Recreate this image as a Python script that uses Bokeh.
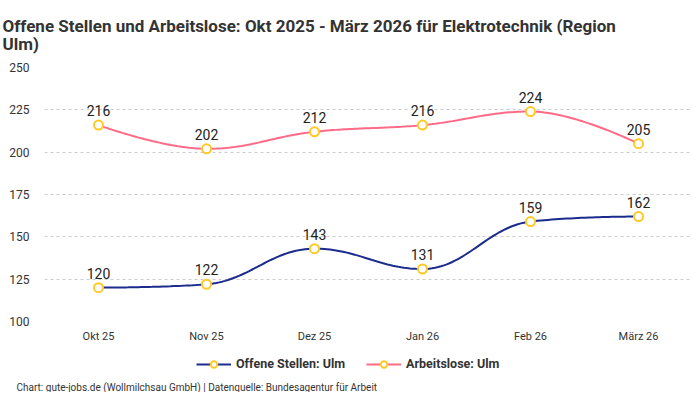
import numpy as np
from bokeh.plotting import figure
from bokeh.layouts import column
from bokeh.models import (Range1d, FixedTicker, Legend, LegendItem, Title,
                          ColumnDataSource, LabelSet)
from bokeh.core.properties import value
from bokeh.embed import file_html
from bokeh.resources import INLINE

months = ["Okt 25", "Nov 25", "Dez 25", "Jan 26", "Feb 26", "März 26"]
offene_stellen = [120, 122, 143, 131, 159, 162]
arbeitslose = [216, 202, 212, 216, 224, 205]
y_ticks = [100, 125, 150, 175, 200, 225, 250]

TITLE = "Offene Stellen und Arbeitslose: Okt 2025 - März 2026 für Elektrotechnik (Region\nUlm)"
FOOTER = "Chart: gute-jobs.de (Wollmilchsau GmbH) | Datenquelle: Bundesagentur für Arbeit"
FONT = "Roboto"
BLUE = "#1b2c8d"
PINK = "#ff6b86"
MARKER = "#ffc928"


def hc_spline(xs, ys, samples=40):
    """Highcharts-style spline: control points from neighbouring points."""
    n = len(xs)
    s, d = 1.5, 2.5
    left = [None] * n
    right = [None] * n
    for i in range(1, n - 1):
        px, py = xs[i], ys[i]
        lx, ly = xs[i - 1], ys[i - 1]
        nx, ny = xs[i + 1], ys[i + 1]
        lcx, lcy = (s * px + lx) / d, (s * py + ly) / d
        rcx, rcy = (s * px + nx) / d, (s * py + ny) / d
        corr = 0.0
        if rcx != lcx:
            corr = (rcy - lcy) * (rcx - px) / (rcx - lcx) + py - rcy
        lcy += corr
        rcy += corr
        if lcy > ly and lcy > py:
            lcy = max(ly, py); rcy = 2 * py - lcy
        elif lcy < ly and lcy < py:
            lcy = min(ly, py); rcy = 2 * py - lcy
        if rcy > ny and rcy > py:
            rcy = max(ny, py); lcy = 2 * py - rcy
        elif rcy < ny and rcy < py:
            rcy = min(ny, py); lcy = 2 * py - rcy
        left[i] = (lcx, lcy)
        right[i] = (rcx, rcy)
    out_x, out_y = [], []
    t = np.linspace(0, 1, samples)
    for i in range(1, n):
        p0 = (xs[i - 1], ys[i - 1])
        p3 = (xs[i], ys[i])
        p1 = right[i - 1] if right[i - 1] is not None else p0
        p2 = left[i] if left[i] is not None else p3
        bx = (1 - t) ** 3 * p0[0] + 3 * (1 - t) ** 2 * t * p1[0] + 3 * (1 - t) * t ** 2 * p2[0] + t ** 3 * p3[0]
        by = (1 - t) ** 3 * p0[1] + 3 * (1 - t) ** 2 * t * p1[1] + 3 * (1 - t) * t ** 2 * p2[1] + t ** 3 * p3[1]
        if i > 1:
            bx, by = bx[1:], by[1:]
        out_x.extend(bx.tolist())
        out_y.extend(by.tolist())
    return out_x, out_y


xpos = list(range(len(months)))
W = 692

p = figure(width=W, height=348, output_backend="svg", toolbar_location=None,
           x_range=Range1d(-0.5, len(months) - 0.5), y_range=Range1d(100, 250),
           min_border_left=44, min_border_right=0, min_border_top=0, min_border_bottom=27)
p.outline_line_color = None
p.background_fill_color = "white"

p.title.text = TITLE
p.title.text_font = FONT
p.title.text_font_size = "17px"
p.title.text_font_style = "bold"
p.title.text_color = "#333333"
p.title.text_line_height = 0.88
p.title.offset = -42
p.title.standoff = 27

p.xaxis.ticker = FixedTicker(ticks=xpos)
p.xaxis.major_label_overrides = {i: m for i, m in enumerate(months)}
p.yaxis.ticker = FixedTicker(ticks=y_ticks)
for ax in (p.xaxis, p.yaxis):
    ax.axis_line_color = None
    ax.major_tick_line_color = None
    ax.minor_tick_line_color = None
    ax.major_tick_out = 0
    ax.major_tick_in = 0
    ax.minor_tick_out = 0
    ax.major_label_text_font = FONT
    ax.major_label_text_color = "#333333"
p.xaxis.major_label_text_font_size = "11px"
p.yaxis.major_label_text_font_size = "12px"
p.xaxis.major_label_standoff = 8
p.yaxis.major_label_standoff = 15

p.xgrid.grid_line_color = None
p.ygrid.grid_line_color = "#cccccc"
p.ygrid.grid_line_dash = "3 3"
p.ygrid.grid_line_width = 1

# legend / footer strip (its own y range keeps the proxy lines out of view)
q = figure(width=W, height=44, output_backend="svg", toolbar_location=None,
           x_axis_type=None, y_axis_type=None,
           min_border_left=0, min_border_right=0, min_border_top=0, min_border_bottom=0,
           x_range=Range1d(0, 1), y_range=Range1d(0, 1))
q.outline_line_color = None
q.xgrid.grid_line_color = None
q.ygrid.grid_line_color = None

items = []
for name, vals, col in [("Offene Stellen: Ulm", offene_stellen, BLUE),
                        ("Arbeitslose: Ulm", arbeitslose, PINK)]:
    sx, sy = hc_spline(xpos, vals)
    p.line(sx, sy, line_color=col, line_width=2)
    src = ColumnDataSource(dict(x=xpos, y=vals, t=[str(v) for v in vals]))
    p.scatter("x", "y", source=src, size=9, fill_color="white",
              line_color=MARKER, line_width=2)
    lbl = LabelSet(x="x", y="y", text="t", source=src, y_offset=9,
                   text_align="center", text_baseline="bottom",
                   text_font=value(FONT), text_font_size="14px", text_color="#222222")
    p.add_layout(lbl)
    ln2 = q.line(xpos, vals, line_color=col, line_width=2)
    sc2 = q.scatter(xpos, vals, size=9, fill_color="white", line_color=MARKER, line_width=2)
    items.append(LegendItem(label=name, renderers=[ln2, sc2]))

legend = Legend(items=items, orientation="horizontal", location="left",
                label_text_font=FONT, label_text_font_size="12.5px",
                label_text_font_style="bold", label_text_color="#333333",
                glyph_width=35, glyph_height=16, label_height=16, label_standoff=5,
                spacing=21, border_line_color=None,
                background_fill_alpha=0, margin=152, padding=0)
q.add_layout(legend, "center")

footer = Title(text=FOOTER, align="left", text_font=FONT, text_font_size="10px",
               text_font_style="normal", text_color="#333333", offset=-28, standoff=0)
q.add_layout(footer, "below")

layout = column(p, q, spacing=0)
open("out.html", "w").write(file_html(layout, INLINE))
